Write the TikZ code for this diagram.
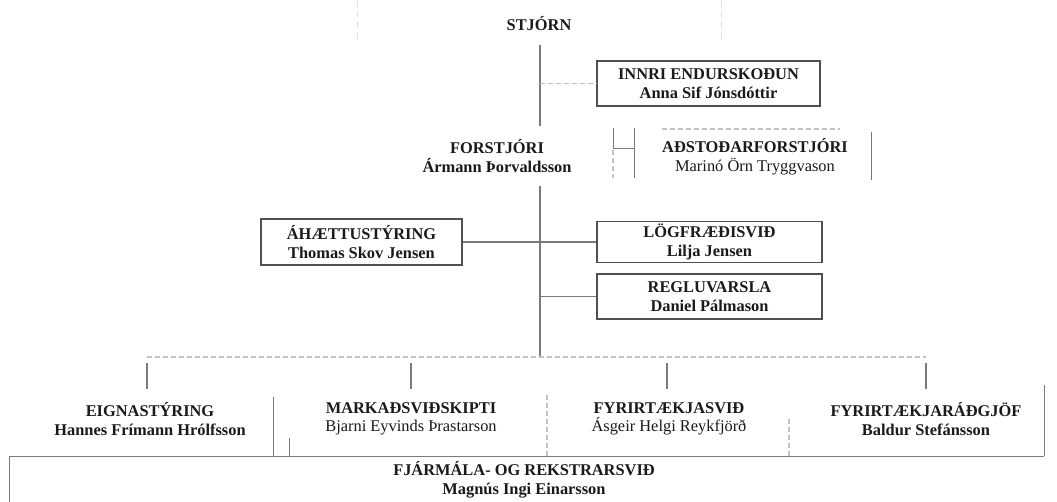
\documentclass[tikz,border=0pt]{standalone}
\usepackage{fontspec}
\setmainfont{Liberation Serif}
\definecolor{boxgray}{HTML}{505050}
\definecolor{linegray}{HTML}{7A7A7A}
\definecolor{faintgray}{HTML}{C4C4C4}
\definecolor{tracegray}{HTML}{E0E0E0}
\definecolor{txt}{HTML}{1A1A1A}
\begin{document}
\begin{tikzpicture}[x=0.75pt,y=-0.75pt,
  lbl/.style={align=center,inner sep=0pt,text=txt,font=\fontsize{12.3}{14}\selectfont},
  boxn/.style={draw=boxgray,line width=0.8pt,inner sep=0pt,align=center,text=txt,font=\fontsize{12.3}{14}\selectfont},
  conn/.style={draw=linegray,line width=0.9pt},
  sep/.style={draw=linegray,line width=0.7pt},
  faint/.style={draw=faintgray,line width=0.8pt,dash pattern=on 4pt off 2pt},
  trace/.style={draw=tracegray,line width=0.7pt,dash pattern=on 5pt off 3pt},
]
\useasboundingbox (0,0) rectangle (1057,502);
\fill[white] (0,0) rectangle (1057,502);

% faint scan traces at the top
\draw[trace] (357,0) -- (357,40);
\draw[trace] (721,0) -- (721,42);

% ---------- nodes ----------
\node[lbl] (stjorn) at (539,24) {\textbf{STJÓRN}};

\node[boxn,minimum width=167.25pt,minimum height=33.75pt] (innri) at (708.5,83.5)
  {\textbf{INNRI ENDURSKOÐUN}\\\textbf{Anna Sif Jónsdóttir}};

\node[lbl] (forstj) at (497,156) {\textbf{FORSTJÓRI}\\\textbf{Ármann Þorvaldsson}};

\node[lbl] (adst) at (755,157) {\textbf{AÐSTOÐARFORSTJÓRI}\\Marinó Örn Tryggvason};

\node[boxn,minimum width=150.75pt,minimum height=34.5pt] (ahaettu) at (361.5,242)
  {\textbf{ÁHÆTTUSTÝRING}\\\textbf{Thomas Skov Jensen}};

\node[boxn,minimum width=168.75pt,minimum height=30.75pt] (log) at (709.5,242)
  {\textbf{LÖGFRÆÐISVIÐ}\\\textbf{Lilja Jensen}};

\node[boxn,minimum width=168.75pt,minimum height=33.75pt] (regl) at (709.5,296.5)
  {\textbf{REGLUVARSLA}\\\textbf{Daniel Pálmason}};

\node[lbl] (eign) at (150,419) {\textbf{EIGNASTÝRING}\\\textbf{Hannes Frímann Hrólfsson}};
\node[lbl] (mark) at (411,419) {\textbf{MARKAÐSVIÐSKIPTI}\\Bjarni Eyvinds  Þrastarson};
\node[lbl] (fyrsv) at (669,419) {\textbf{FYRIRTÆKJASVIÐ}\\Ásgeir Helgi Reykfjörð};
\node[lbl] (fyrrad) at (926,419) {\textbf{FYRIRTÆKJARÁÐGJÖF}\\\textbf{Baldur Stefánsson}};

\node[lbl] (fjarm) at (524,480) {\textbf{FJÁRMÁLA- OG REKSTRARSVIÐ}\\\textbf{Magnús Ingi Einarsson}};

% ---------- coordinates on the main line ----------
\coordinate (m0) at (540,45);
\coordinate (m1) at (540,126);
\coordinate (m2) at (540,186);
\coordinate (m3) at (540,357);
\coordinate (mi) at (540,83.5);
\coordinate (mr) at (540,296.5);

% main line (broken around the FORSTJÓRI label)
\draw[conn] (m0) -- (m1);
\draw[conn] (m2) -- (m3);

% connectors
\draw[faint] (mi) -- (innri.west);
\draw[conn] (ahaettu.east) -- (log.west);
\draw[conn] (mr) -- (regl.west);

% AÐSTOÐARFORSTJÓRI frame remnants
\draw[sep] (613,128) -- (613,148);
\draw[faint] (613,150) -- (613,178);
\draw[sep] (634,128) -- (634,178);
\draw[sep] (613,148) -- (634,148);
\draw[faint] (662,129) -- (840,129);
\draw[sep] (871,132) -- (871,180);

% bus and drops
\coordinate (b1) at (147,357);
\coordinate (b2) at (411,357);
\coordinate (b3) at (667,357);
\coordinate (b4) at (926,357);
\draw[faint] (b1) -- (m3) -- (b4);
\draw[conn] ([yshift=-4.5pt]b1) -- ([yshift=-24pt]b1);
\draw[conn] ([yshift=-4.5pt]b2) -- ([yshift=-24pt]b2);
\draw[conn] ([yshift=-4.5pt]b3) -- ([yshift=-24pt]b3);
\draw[conn] ([yshift=-4.5pt]b4) -- ([yshift=-24pt]b4);

% bottom row separators
\draw[sep] (273,397) -- (273,456);
\draw[faint] (547,395) -- (547,458);
\draw[faint] (789,419) -- (789,456);
\draw[sep] (1044,385) -- (1044,456);
\draw[sep] (289,438) -- (289,456);

% frame of FJÁRMÁLA- OG REKSTRARSVIÐ
\draw[sep] (9,502) -- (9,456) -- (1044,456);
\end{tikzpicture}
\end{document}
